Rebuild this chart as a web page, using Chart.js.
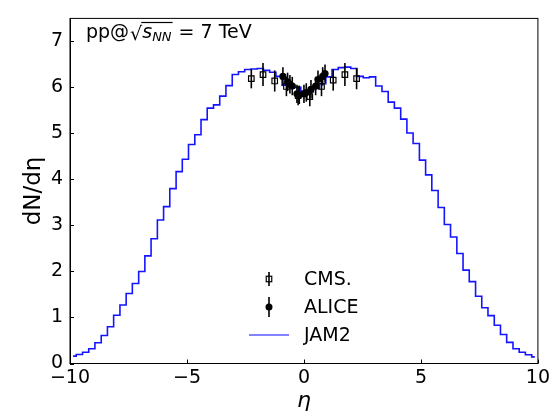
<!DOCTYPE html>
<html><head><meta charset="utf-8">
<script src="https://cdn.jsdelivr.net/npm/chart.js@4.4.1/dist/chart.umd.min.js"></script>
<style>html,body{margin:0;padding:0;background:#fff;overflow:hidden;}</style>
</head><body>
<canvas id="c" width="553" height="416" style="display:block;width:553px;height:416px"></canvas>
<script>
const jamEta = [-9.87,-9.60,-9.33,-9.07,-8.80,-8.53,-8.27,-8.00,-7.73,-7.47,-7.20,-6.93,-6.67,-6.40,-6.13,-5.87,-5.60,-5.33,-5.07,-4.80,-4.53,-4.27,-4.00,-3.73,-3.47,-3.20,-2.93,-2.67,-2.40,-2.13,-1.87,-1.60,-1.33,-1.07,-0.80,-0.53,-0.27,0.00,0.27,0.53,0.80,1.07,1.33,1.60,1.87,2.13,2.40,2.67,2.93,3.20,3.47,3.73,4.00,4.27,4.53,4.80,5.07,5.33,5.60,5.87,6.13,6.40,6.67,6.93,7.20,7.47,7.73,8.00,8.27,8.53,8.80,9.07,9.33,9.60,9.87];
const jamValues = [0.16,0.195,0.245,0.32,0.45,0.61,0.80,1.05,1.27,1.52,1.74,2.00,2.34,2.71,3.12,3.41,3.80,4.17,4.44,4.76,4.97,5.30,5.55,5.62,5.81,6.04,6.28,6.34,6.39,6.40,6.41,6.37,6.33,6.24,6.05,6.05,6.00,5.92,5.90,5.98,6.08,6.23,6.39,6.43,6.44,6.41,6.24,6.21,6.23,6.03,5.91,5.68,5.55,5.31,5.01,4.78,4.42,4.10,3.76,3.39,3.02,2.75,2.39,2.03,1.78,1.46,1.21,1.04,0.83,0.63,0.46,0.32,0.245,0.19,0.145];
const cmsEta = [-2.25,-1.75,-1.25,-0.75,-0.25,0.25,0.75,1.25,1.75,2.25];
const cmsValues = [6.19,6.28,6.14,6.02,5.82,5.80,6.02,6.16,6.28,6.19];
const cmsErrors = [0.21,0.25,0.23,0.21,0.21,0.21,0.21,0.23,0.25,0.23];
const aliceEta = [-0.9,-0.7,-0.6,-0.5,-0.3,-0.2,0.0,0.1,0.3,0.5,0.6,0.8,0.9];
const aliceValues = [6.24,6.12,6.07,6.03,5.86,5.84,5.86,5.89,5.96,6.03,6.17,6.24,6.30];
const aliceErrors = [0.2,0.2,0.2,0.2,0.2,0.2,0.2,0.2,0.2,0.2,0.2,0.2,0.2];
const xTicks = [-10,-5,0,5,10];
const yTicks = [0,1,2,3,4,5,6,7];
const legendLabels = ['CMS.','ALICE','JAM2'];

const FONT = '"DejaVu Sans", sans-serif';
const toXY = (xs, ys) => xs.map((x, i) => ({x: x, y: ys[i]}));

const decor = {
  id: 'decor',
  afterDatasetDraw(chart, args) {
    if (args.index !== 0) return;
    const ctx = chart.ctx, xs = chart.scales.x, ys = chart.scales.y;
    ctx.save();
    ctx.strokeStyle = '#000';
    ctx.lineWidth = 1.6;
    const bars = (eta, val, err) => {
      eta.forEach((e, i) => {
        const px = xs.getPixelForValue(e);
        ctx.beginPath();
        ctx.moveTo(px, ys.getPixelForValue(val[i] - err[i]));
        ctx.lineTo(px, ys.getPixelForValue(val[i] + err[i]));
        ctx.stroke();
      });
    };
    bars(cmsEta, cmsValues, cmsErrors);
    bars(aliceEta, aliceValues, aliceErrors);
    ctx.restore();
  },
  afterDraw(chart) {
    const ctx = chart.ctx, a = chart.chartArea, xs = chart.scales.x, ys = chart.scales.y;
    ctx.save();
    ctx.strokeStyle = '#000';
    ctx.lineWidth = 1;
    ctx.strokeRect(a.left, a.top, a.right - a.left, a.bottom - a.top);
    ctx.beginPath();
    xTicks.forEach(t => { const p = Math.round(xs.getPixelForValue(t)) + 0.5; ctx.moveTo(p, a.bottom); ctx.lineTo(p, a.bottom - 4); });
    yTicks.forEach(t => { const p = Math.round(ys.getPixelForValue(t)) + 0.5; ctx.moveTo(a.left, p); ctx.lineTo(a.left + 4, p); });
    ctx.stroke();

    // annotation pp@sqrt(s_NN) = 7 TeV
    ctx.fillStyle = '#000';
    ctx.textBaseline = 'alphabetic';
    ctx.textAlign = 'left';
    let x = 86, base = 38;
    ctx.font = '19px ' + FONT;
    ctx.fillText('pp@', x, base);
    x += ctx.measureText('pp@').width + 1;
    ctx.font = '19px ' + FONT;
    ctx.fillText('\u221A', x, base + 2);
    const rw = ctx.measureText('\u221A').width;
    const ovStart = x + rw - 1;
    x += rw;
    ctx.font = 'italic 19px ' + FONT;
    ctx.fillText('s', x, base);
    x += ctx.measureText('s').width;
    ctx.font = 'italic 13px ' + FONT;
    ctx.fillText('NN', x, base + 3);
    x += ctx.measureText('NN').width + 1;
    ctx.beginPath();
    ctx.lineWidth = 1.2;
    ctx.moveTo(ovStart, 22.5);
    ctx.lineTo(x, 22.5);
    ctx.stroke();
    ctx.font = '19px ' + FONT;
    ctx.fillText(' = 7 TeV', x, base);

    // legend
    const lx = 269, tx = 304;
    const rows = [279, 307, 335];
    ctx.font = '19px ' + FONT;
    ctx.textBaseline = 'middle';
    legendLabels.forEach((t, i) => ctx.fillText(t, tx, rows[i] + 1));
    ctx.lineWidth = 1.6;
    ctx.beginPath();
    ctx.moveTo(lx, rows[0] - 7); ctx.lineTo(lx, rows[0] + 7);
    ctx.moveTo(lx, rows[1] - 10); ctx.lineTo(lx, rows[1] + 10);
    ctx.stroke();
    ctx.lineWidth = 1.2;
    ctx.strokeRect(lx - 2.75, rows[0] - 2.75, 5.5, 5.5);
    ctx.beginPath();
    ctx.arc(lx, rows[1], 3.5, 0, Math.PI * 2);
    ctx.fill();
    ctx.strokeStyle = 'rgba(0,0,255,0.65)';
    ctx.lineWidth = 1.6;
    ctx.beginPath();
    ctx.moveTo(249, rows[2]); ctx.lineTo(289, rows[2]);
    ctx.stroke();
    ctx.restore();
  }
};

new Chart(document.getElementById('c'), {
  type: 'scatter',
  data: {
    datasets: [
      {label: 'JAM2', data: toXY(jamEta, jamValues), showLine: true, stepped: 'middle',
       borderColor: 'rgba(0,0,255,0.92)', borderWidth: 1.6, pointRadius: 0, fill: false, order: 2},
      {label: 'CMS.', data: toXY(cmsEta, cmsValues), pointStyle: 'rect', pointRadius: 3.9,
       borderColor: '#000', backgroundColor: 'rgba(0,0,0,0)', pointBorderWidth: 1.2, borderWidth: 1.2, order: 1},
      {label: 'ALICE', data: toXY(aliceEta, aliceValues), pointStyle: 'circle', pointRadius: 3.6,
       borderColor: '#000', backgroundColor: '#000', borderWidth: 0, order: 0}
    ]
  },
  options: {
    responsive: false,
    devicePixelRatio: 1,
    animation: false,
    layout: {padding: {top: 10.5, right: 14, left: 0, bottom: 0}},
    plugins: {legend: {display: false}, tooltip: {enabled: false}},
    scales: {
      x: {
        type: 'linear', min: -10, max: 10,
        afterBuildTicks: s => { s.ticks = xTicks.map(v => ({value: v})); },
        afterFit: s => { s.height = 52.5; },
        grid: {display: false, drawTicks: false},
        border: {display: true, color: '#000', width: 1},
        ticks: {color: '#000', font: {family: FONT, size: 19}, padding: 3,
                callback: v => (v < 0 ? '\u2212' + Math.abs(v) : String(v))},
        title: {display: true, text: '\u03B7', color: '#000', font: {family: FONT, size: 22, style: 'italic'}, padding: {top: 0, bottom: 2}}
      },
      y: {
        type: 'linear', min: 0, max: 7.5,
        afterBuildTicks: s => { s.ticks = yTicks.map(v => ({value: v})); },
        afterFit: s => { s.width = 70; },
        grid: {display: false, drawTicks: false},
        border: {display: true, color: '#000', width: 1},
        ticks: {color: '#000', font: {family: FONT, size: 19}, padding: 7},
        title: {display: true, text: 'dN/d\u03B7', color: '#000', font: {family: FONT, size: 23}, padding: {top: 20, bottom: 0}}
      }
    }
  },
  plugins: [decor]
});
</script>
</body></html>
